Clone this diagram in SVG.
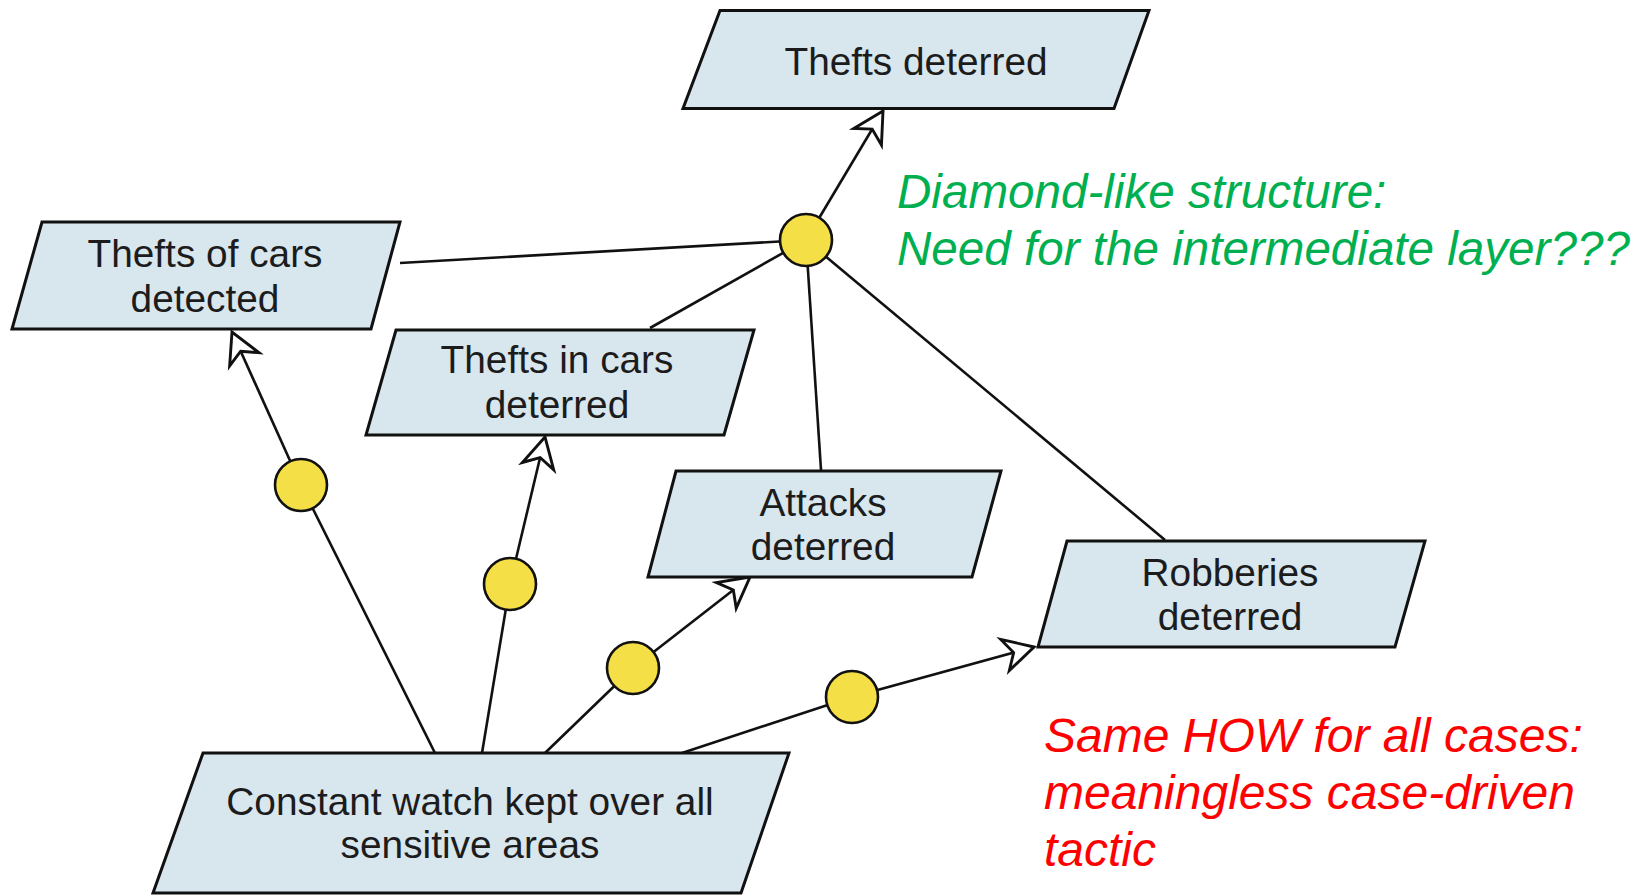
<svg xmlns="http://www.w3.org/2000/svg" width="1652" height="895" viewBox="0 0 1652 895">
  <style>
    .box { fill: #d8e6ee; stroke: #111; stroke-width: 3; stroke-linejoin: miter; }
    .lbl { font-family: "Liberation Sans", Arial, sans-serif; font-size: 38.8px; fill: #1c1c1c; text-anchor: middle; }
    .edge { stroke: #111; stroke-width: 2.6; fill: none; }
    .and { fill: #f5df46; stroke: #111; stroke-width: 2.6; }
    .note { font-family: "Liberation Sans", Arial, sans-serif; font-size: 48px; font-style: italic; }
  </style>
  <defs>
    <marker id="openArrow" markerUnits="userSpaceOnUse" markerWidth="40" markerHeight="40" viewBox="-30 -18 34 36" refX="0" refY="0" orient="auto" overflow="visible">
      <path d="M0,0 L-27,-14.5 L-19,0 L-27,14.5 Z" fill="#fff" stroke="#111" stroke-width="2.6" stroke-linejoin="miter"/>
    </marker>
  </defs>

  <!-- connectors -->
  <g id="connectors">
    <!-- hub refinement to the four sub-goals -->
    <line class="edge" x1="806" y1="240" x2="400" y2="263"/>
    <line class="edge" x1="806" y1="240" x2="650" y2="328"/>
    <line class="edge" x1="806" y1="240" x2="821" y2="470"/>
    <line class="edge" x1="806" y1="240" x2="1165" y2="540"/>
    <line class="edge" x1="806" y1="240" x2="883" y2="111" marker-end="url(#openArrow)"/>
    <!-- operationalisation links from the shared task -->
    <line class="edge" x1="435" y1="753" x2="301" y2="485"/>
    <line class="edge" x1="301" y1="485" x2="232" y2="332" marker-end="url(#openArrow)"/>
    <line class="edge" x1="482" y1="753" x2="510" y2="584"/>
    <line class="edge" x1="510" y1="584" x2="545" y2="437" marker-end="url(#openArrow)"/>
    <line class="edge" x1="545" y1="753" x2="633" y2="668"/>
    <line class="edge" x1="633" y1="668" x2="750" y2="577" marker-end="url(#openArrow)"/>
    <line class="edge" x1="682" y1="753" x2="852" y2="697"/>
    <line class="edge" x1="852" y1="697" x2="1034" y2="647" marker-end="url(#openArrow)"/>
  </g>

  <!-- goals -->
  <g id="thefts-deterred">
    <polygon class="box" points="720,10.5 1149,10.5 1114,108.5 683,108.5"/>
    <text class="lbl" x="916" y="75">Thefts deterred</text>
  </g>
  <g id="thefts-of-cars-detected">
    <polygon class="box" points="42,222 400,222 371,329 12,329"/>
    <text class="lbl" x="205" y="267">Thefts of cars</text>
    <text class="lbl" x="205" y="312">detected</text>
  </g>
  <g id="thefts-in-cars-deterred">
    <polygon class="box" points="396,330 754,330 724,435 366,435"/>
    <text class="lbl" x="557" y="373">Thefts in cars</text>
    <text class="lbl" x="557" y="418">deterred</text>
  </g>
  <g id="attacks-deterred">
    <polygon class="box" points="676,471 1001,471 972,577 648,577"/>
    <text class="lbl" x="823" y="516">Attacks</text>
    <text class="lbl" x="823" y="560">deterred</text>
  </g>
  <g id="robberies-deterred">
    <polygon class="box" points="1067,541 1425,541 1395,647 1038,647"/>
    <text class="lbl" x="1230" y="586">Robberies</text>
    <text class="lbl" x="1230" y="630">deterred</text>
  </g>
  <g id="constant-watch">
    <polygon class="box" points="203,753 789,753 741,893 153,893"/>
    <text class="lbl" x="470" y="815">Constant watch kept over all</text>
    <text class="lbl" x="470" y="858">sensitive areas</text>
  </g>

  <!-- refinement junctions -->
  <g id="hub"><circle class="and" cx="806" cy="240" r="26"/></g>
  <g id="junction-1"><circle class="and" cx="301" cy="485" r="26"/></g>
  <g id="junction-2"><circle class="and" cx="510" cy="584" r="26"/></g>
  <g id="junction-3"><circle class="and" cx="633" cy="668" r="26"/></g>
  <g id="junction-4"><circle class="and" cx="852" cy="697" r="26"/></g>

  <!-- annotations -->
  <g id="note-diamond" class="note" fill="#00b050">
    <text x="897" y="208" font-size="47.6">Diamond-like structure:</text>
    <text x="897" y="265" font-size="47.6">Need for the intermediate layer???</text>
  </g>
  <g id="note-how" class="note" fill="#ff0000">
    <text x="1044" y="752">Same HOW for all cases:</text>
    <text x="1044" y="809">meaningless case-driven</text>
    <text x="1044" y="866">tactic</text>
  </g>
</svg>
